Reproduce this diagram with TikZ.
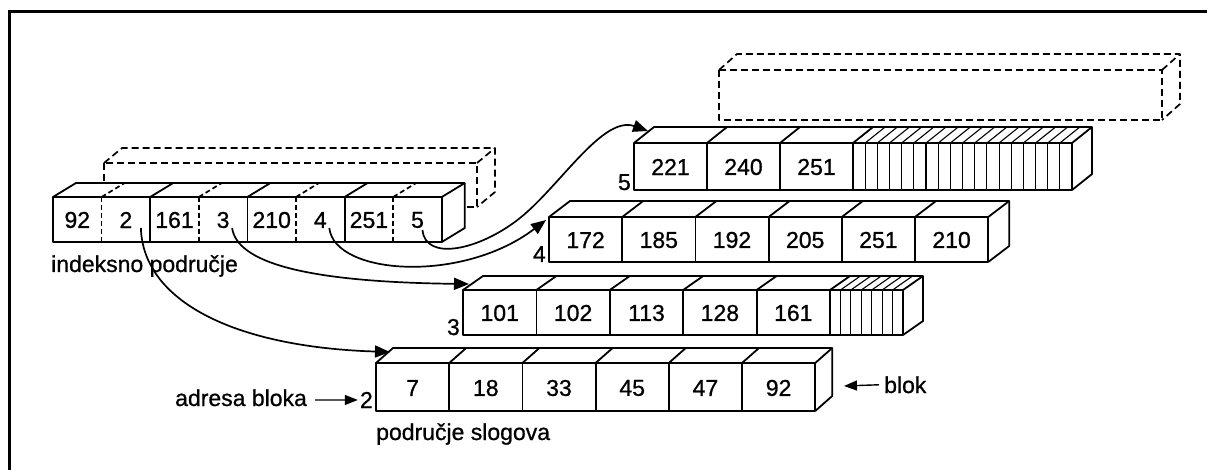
\documentclass[tikz,border=0pt]{standalone}
\usepackage{fontspec}
\setmainfont{Liberation Sans}[FakeBold=0.8]
\usetikzlibrary{arrows.meta,calc}
\begin{document}
\begin{tikzpicture}[x=1pt,y=-1pt,
  edge/.style={line width=1.8pt,line join=round},
  thin edge/.style={line width=1.1pt},
  ghost/.style={line width=1.7pt,dash pattern=on 7pt off 4pt,line join=round},
  txt/.style={inner sep=0pt,font=\fontsize{23}{25}\selectfont},
  conn/.style={line width=1.7pt,-{Triangle[length=15pt,width=12pt]}},
  pointer/.style={line width=1.4pt,-{Triangle[length=13pt,width=10pt]}}]
\useasboundingbox (0,0) rectangle (1207,470);
\fill[white] (0,0) rectangle (1207,470);
% frame (only top and left edges are visible)
\draw[line width=3pt] (9,490) -- (9,12) -- (1230,12);

% ---- dashed (empty) boxes ----
\draw[ghost] (104,163) rectangle (477,207);
\draw[ghost] (104,163) -- (122,148) -- (495,148) -- (495,192) -- (477,207);
\draw[ghost] (477,163) -- (495,148);
\draw[ghost] (719,70) rectangle (1162,120);
\draw[ghost] (719,70) -- (737,54) -- (1180,54) -- (1180,104) -- (1162,120);
\draw[ghost] (1162,70) -- (1180,54);

% ---- index block ----
\fill[white] (53,197) -- (76,183) -- (465,183) -- (465,228) -- (442,242) -- (53,242) -- cycle;
\draw[edge] (53,197) rectangle (441.8,242);
\draw[edge] (53,197) -- (76,183) -- (464.8,183) -- (464.8,228) -- (441.8,242);
\draw[edge] (441.8,197) -- (464.8,183);
\foreach \i in {2,4,6} {
  \draw[edge] (53+\i*48.6,197) -- ++(0,45);
  \draw[edge] (53+\i*48.6,197) -- ++(23,-14);
}
\foreach \i in {1,3,5,7} {
  \draw[ghost,dash pattern=on 5pt off 3pt] (53+\i*48.6,197) -- ++(0,45);
  \draw[ghost,dash pattern=on 5pt off 3pt] (53+\i*48.6,197) -- ++(23,-14);
}
\foreach [count=\i from 0] \t in {92,2,161,3,210,4,251,5}
  \node[txt] (ix\i) at (53+\i*48.6+24.3,220) {\t};
\node[txt,anchor=base west] (indeks) at (51,272) {indeksno područje};

% ---- block 5 ----
\fill[white] (634,143) -- (654,127) -- (1092,127) -- (1092,174) -- (1072,190) -- (634,190) -- cycle;
\draw[edge] (634,143) rectangle (1072,190);
\draw[edge] (634,143) -- (654,127) -- (1092,127) -- (1092,174) -- (1072,190);
\draw[edge] (1072,143) -- (1092,127);
\foreach \i in {1,2,3} {
  \draw[edge] (634+\i*73,143) -- ++(0,47);
  \draw[edge] (634+\i*73,143) -- ++(20,-16);
}
\foreach \i in {1,...,17} {
  \draw[thin edge] (853+\i*12.17,143) -- ++(0,47);
  \draw[thin edge] (853+\i*12.17,143) -- ++(20,-16);
}
\foreach [count=\i from 0] \t in {221,240,251}
  \node[txt] (c5-\i) at (634+\i*73+36.5,167) {\t};
\node[txt,anchor=base east] (l5) at (631,190) {5};

% ---- block 4 ----
\fill[white] (549,217) -- (570,201) -- (1009,201) -- (1009,246) -- (988,262) -- (549,262) -- cycle;
\draw[edge] (549,217) rectangle (988.2,262);
\draw[edge] (549,217) -- (570,201) -- (1009.2,201) -- (1009.2,246) -- (988.2,262);
\draw[edge] (988.2,217) -- (1009.2,201);
\foreach \i in {1,...,5} {
  \draw[edge] (549+\i*73.2,217) -- ++(0,45);
  \draw[edge] (549+\i*73.2,217) -- ++(21,-16);
}
\foreach [count=\i from 0] \t in {172,185,192,205,251,210}
  \node[txt] (c4-\i) at (549+\i*73.2+36.6,240) {\t};
\node[txt,anchor=base east] (l4) at (546,262) {4};

% ---- block 3 ----
\fill[white] (463,290) -- (483,276) -- (923,276) -- (923,321) -- (903,335) -- (463,335) -- cycle;
\draw[edge] (463,290) rectangle (903,335);
\draw[edge] (463,290) -- (483,276) -- (923,276) -- (923,321) -- (903,335);
\draw[edge] (903,290) -- (923,276);
\foreach \i in {1,...,5} {
  \draw[edge] (463+\i*73.4,290) -- ++(0,45);
  \draw[edge] (463+\i*73.4,290) -- ++(20,-14);
}
\foreach \i in {1,...,6} {
  \draw[thin edge] (830+\i*10.43,290) -- ++(0,45);
  \draw[thin edge] (830+\i*10.43,290) -- ++(20,-14);
}
\foreach [count=\i from 0] \t in {101,102,113,128,161}
  \node[txt] (c3-\i) at (463+\i*73.4+36.7,313) {\t};
\node[txt,anchor=base east] (l3) at (460,335) {3};

% ---- block 2 ----
\fill[white] (376,363) -- (393,348) -- (832,348) -- (832,396) -- (815,411) -- (376,411) -- cycle;
\draw[edge] (376,363) rectangle (815.2,411);
\draw[edge] (376,363) -- (393,348) -- (832.2,348) -- (832.2,396) -- (815.2,411);
\draw[edge] (815.2,363) -- (832.2,348);
\foreach \i in {1,...,5} {
  \draw[edge] (376+\i*73.2,363) -- ++(0,48);
  \draw[edge] (376+\i*73.2,363) -- ++(17,-15);
}
\foreach [count=\i from 0] \t in {7,18,33,45,47,92}
  \node[txt] (c2-\i) at (376+\i*73.2+36.6,388) {\t};
\node[txt,anchor=base east] (l2) at (373,408) {2};
\node[txt,anchor=base west] (slog) at (376,440) {područje slogova};

% ---- labels with pointers ----
\node[txt,anchor=base west] (adr) at (175,406) {adresa bloka};
\draw[pointer] ([xshift=8pt,yshift=6pt]adr.base east) -- ([xshift=-2pt]l2.west);
\node[txt,anchor=base west] (blok) at (884,393) {blok};
\draw[pointer] ([xshift=-5pt]blok.west) -- (844,386);

% ---- connectors ----
\coordinate (e2) at (390,352);
\coordinate (e3) at (469,284);
\coordinate (e4) at (546,220);
\coordinate (e5) at (648,131);
\draw[conn] ([shift={(15pt,-8pt)}]ix1.center) .. controls +(2,72) and +(-158,-5) .. (e2);
\draw[conn] ([shift={(9pt,-8pt)}]ix3.center) .. controls +(5,34) and +(-166,-2) .. (e3);
\draw[conn] ([shift={(9pt,-8pt)}]ix5.center) .. controls +(5,47) and +(-84,64) .. (e4);
\draw[conn] ([shift={(5pt,-10pt)}]ix7.center) .. controls +(3,32) and +(-40,32) .. (520,218)
  .. controls +(40,-32) and +(-45,-16) .. (e5);
\end{tikzpicture}
\end{document}
